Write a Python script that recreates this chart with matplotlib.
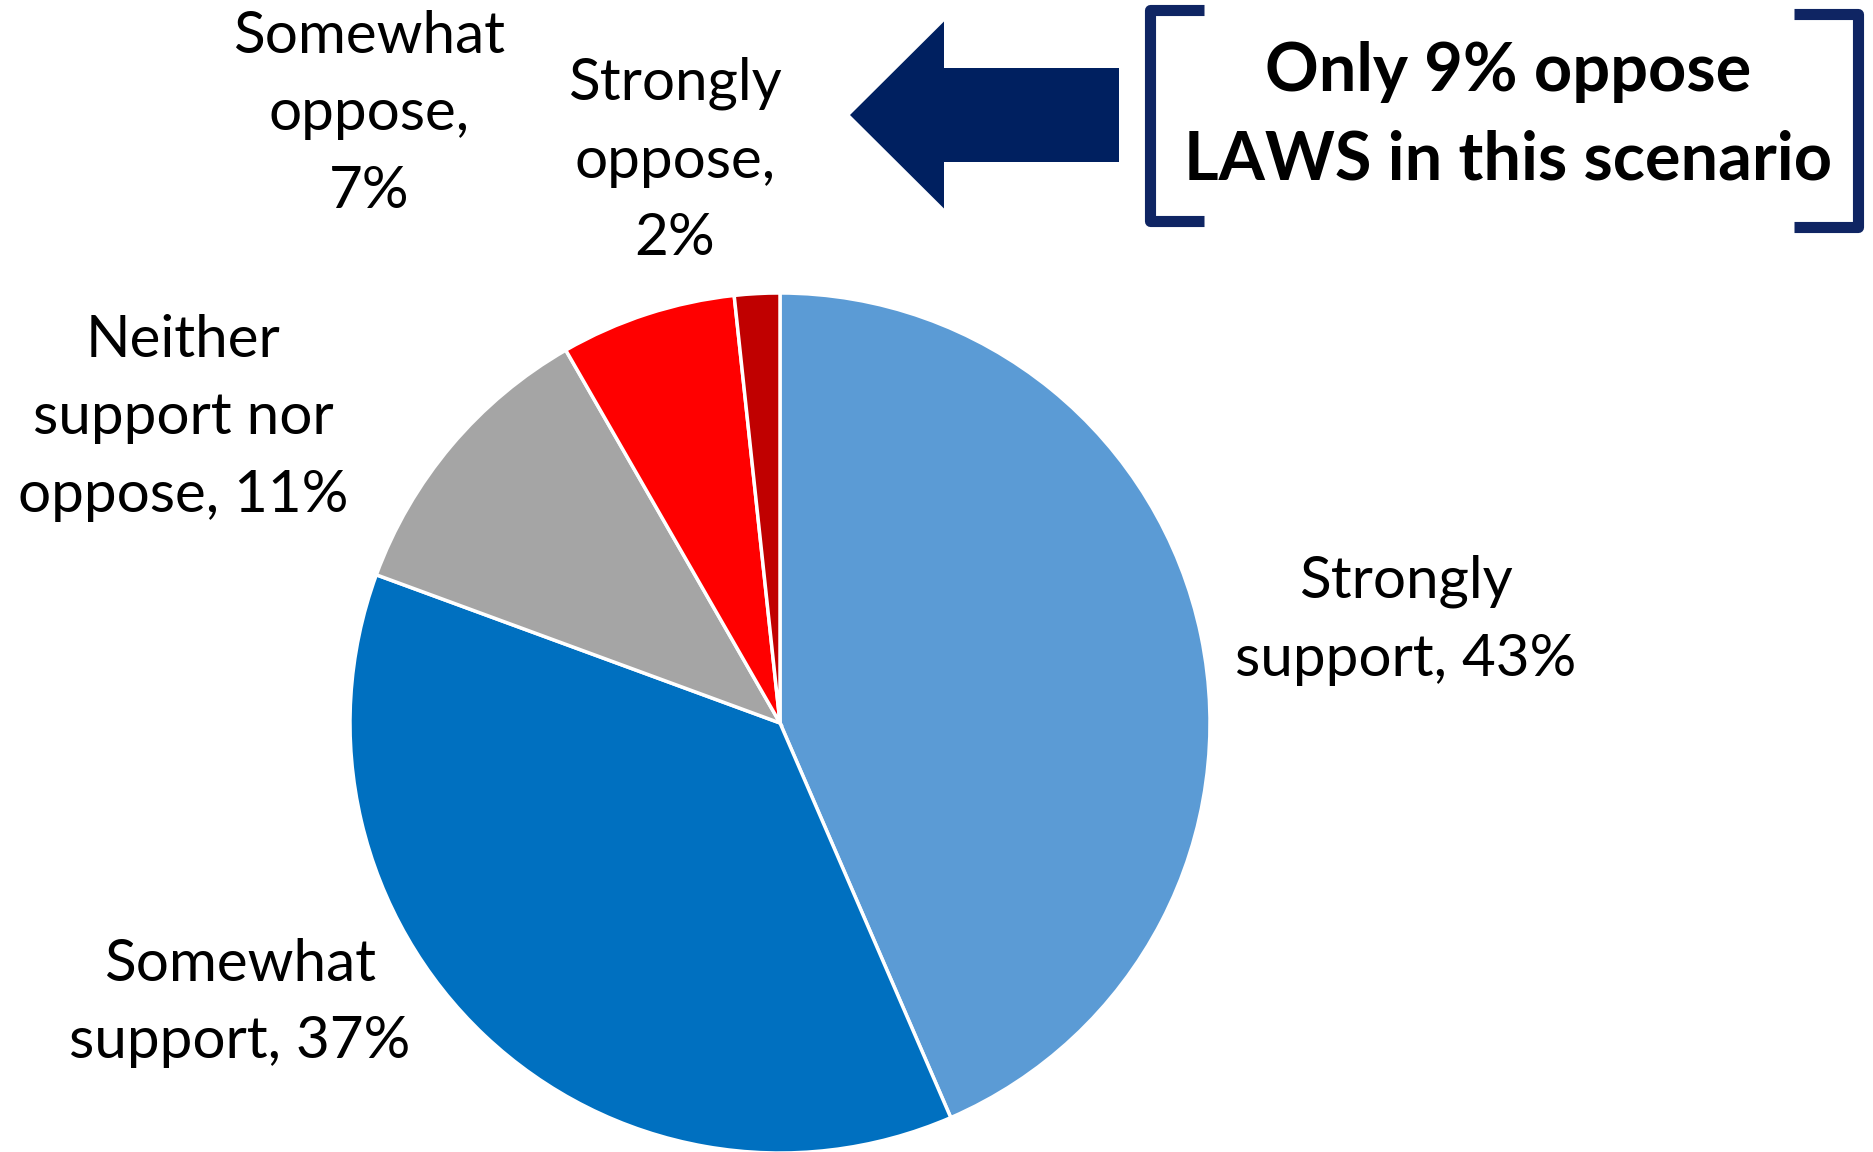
import matplotlib
matplotlib.use("Agg")
import matplotlib.pyplot as plt
from matplotlib.patches import FancyArrow

categories = ["Strongly support", "Somewhat support", "Neither support nor oppose",
              "Somewhat oppose", "Strongly oppose"]
values = [43.5, 37.1, 11.1, 6.6, 1.7]
colors = ["#5B9BD5", "#0070C0", "#A5A5A5", "#FF0000", "#C00000"]
labels = ["Strongly\nsupport, 43%", "Somewhat\nsupport, 37%",
          "Neither\nsupport nor\noppose, 11%", "Somewhat\noppose,\n7%",
          "Strongly\noppose,\n2%"]
callout = "Only 9% oppose\nLAWS in this scenario"

W, H = 1873, 1152


def main():
    plt.rcParams['font.family'] = ['Lato', 'DejaVu Sans']
    fig = plt.figure(figsize=(W / 100, H / 100), dpi=100)
    ax = fig.add_axes([0, 0, 1, 1])

    # pie, in pixel coords (y up)
    ax.pie(values, colors=colors, startangle=90, counterclock=False,
           center=(780, H - 723), radius=430,
           wedgeprops=dict(edgecolor='white', linewidth=2.5))

    # label positions (px from top-left)
    label_pos = [(1406, 620), (240, 1003), (183, 418), (369, 114), (675, 161)]
    for lab, (x, y) in zip(labels, label_pos):
        ax.text(x, H - y, lab, ha='center', va='center', fontsize=42,
                linespacing=1.57, color='black')

    # arrow pointing left
    ax.add_patch(FancyArrow(1119, H - 115, -(1119 - 850), 0, width=94,
                            head_width=187, head_length=94,
                            length_includes_head=True, color='#002060', lw=0))

    # brackets
    bc = '#0f2563'
    ax.plot([1204, 1150, 1150, 1204], [H - 10, H - 10, H - 221, H - 221],
            color=bc, lw=8, solid_joinstyle='round', solid_capstyle='butt')
    ax.plot([1794, 1858, 1858, 1794], [H - 14, H - 14, H - 227, H - 227],
            color=bc, lw=8, solid_joinstyle='round', solid_capstyle='butt')

    ax.text(1508, H - 116, callout, ha='center', va='center', fontsize=48,
            fontweight='bold', linespacing=1.52, color='black')

    ax.set_xlim(0, W)
    ax.set_ylim(0, H)
    ax.set_aspect('auto')
    ax.axis('off')

    fig.savefig("out.png", dpi=100)
    plt.close(fig)


if __name__ == "__main__":
    main()
